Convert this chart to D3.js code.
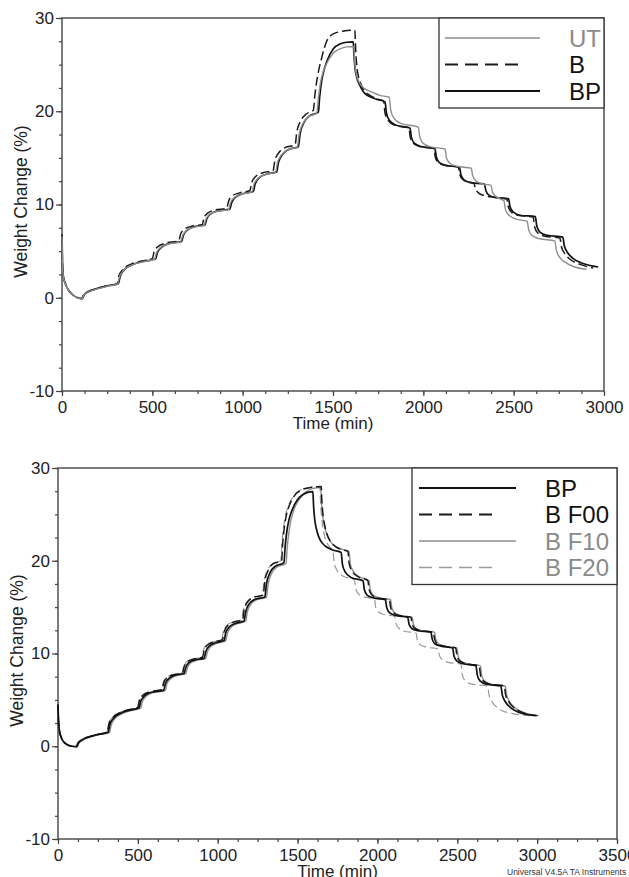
<!DOCTYPE html>
<html>
<head>
<meta charset="utf-8">
<script src="https://cdn.jsdelivr.net/npm/d3@7"></script>
<style>
  body { margin: 0; background: #fff; }
  svg { display: block; font-family: "Liberation Sans", Arial, sans-serif; }
</style>
</head>
<body>
<svg id="chart"></svg>
<script>
// ---- data: [time (min), weight change (%)] ----

// top panel
const topUT = [
  [0,6.6],[3,3.4],[8,2.2],[17,1.6],[30,1.0],[54,0.4],[80,0.05],[110,-0.12],
  [120,0.25],[145,0.6],[195,0.95],[255,1.25],[308,1.45],
  [318,2.25],[341,2.95],[386,3.5],[446,3.85],[512,4.1],
  [522,4.8],[544,5.35],[584,5.75],[657,6.0],
  [667,6.65],[689,7.2],[725,7.55],[786,7.75],
  [796,8.4],[818,8.95],[855,9.25],[922,9.45],
  [932,10.15],[954,10.75],[993,11.1],[1052,11.35],
  [1062,12.15],[1084,12.8],[1123,13.2],[1182,13.45],
  [1192,14.45],[1214,15.3],[1249,15.85],[1302,16.15],
  [1312,17.5],[1334,18.7],[1364,19.4],[1410,19.8],
  [1418,21.2],[1430,23.0],[1445,24.2],[1462,25.0],[1500,26.2],[1540,26.7],[1575,26.9],[1615,26.95],
  [1619,25.6],[1626,24.3],[1638,23.4],[1655,22.8],[1677,22.4],[1710,22.1],[1760,21.7],[1811,21.5],
  [1819,20.2],[1836,19.3],[1875,18.7],[1972,18.3],
  [1980,17.3],[1997,16.6],[2037,16.2],[2120,15.95],
  [2128,15.0],[2145,14.45],[2185,14.1],[2265,13.9],
  [2273,13.1],[2290,12.55],[2330,12.2],[2375,12.05],
  [2383,11.3],[2400,10.9],[2425,10.6],[2446,10.4],
  [2454,9.5],[2471,8.9],[2510,8.45],[2575,8.2],
  [2583,7.3],[2600,6.7],[2640,6.35],[2728,6.1],
  [2736,5.1],[2756,4.3],[2786,3.8],[2830,3.35],[2903,3.05]
];

const topB = [
  [0,6.5],[3,3.5],[8,2.2],[17,1.6],[30,1.0],[54,0.4],[80,0.05],[108,-0.1],
  [118,0.3],[143,0.65],[193,1.0],[253,1.3],[305,1.5],
  [315,2.35],[338,3.05],[383,3.6],[443,3.95],[500,4.2],
  [510,4.95],[532,5.5],[572,5.85],[646,6.1],
  [656,6.8],[678,7.35],[714,7.65],[776,7.85],
  [786,8.55],[808,9.1],[845,9.4],[912,9.6],
  [922,10.35],[944,10.95],[983,11.25],[1040,11.5],
  [1050,12.35],[1072,13.0],[1111,13.4],[1168,13.6],
  [1178,14.7],[1200,15.55],[1235,16.1],[1290,16.4],
  [1300,17.8],[1322,19.0],[1352,19.7],[1391,20.1],
  [1400,21.8],[1415,23.8],[1437,25.7],[1465,27.5],[1502,28.3],[1560,28.6],[1621,28.7],
  [1625,26.8],[1631,25.0],[1640,23.8],[1655,22.9],[1675,22.2],[1705,21.7],[1745,21.3],[1780,21.1],
  [1788,19.8],[1805,19.0],[1842,18.5],[1920,18.2],
  [1928,17.2],[1945,16.55],[1984,16.2],[2058,16.0],
  [2066,15.1],[2083,14.5],[2119,14.2],[2194,14.0],
  [2202,13.2],[2219,12.65],[2250,12.4],[2280,12.3],
  [2288,11.7],[2305,11.25],[2340,10.95],[2400,10.75],[2462,10.6],
  [2470,9.75],[2487,9.2],[2525,8.85],[2608,8.65],
  [2616,7.6],[2633,6.95],[2673,6.6],[2756,6.4],
  [2764,5.5],[2784,4.7],[2814,4.1],[2864,3.6],[2940,3.2]
];

const topBP = [
  [0,6.8],[3,3.5],[8,2.2],[17,1.6],[30,1.0],[54,0.4],[80,0.05],[112,-0.1],
  [122,0.3],[147,0.65],[197,1.0],[257,1.3],[312,1.5],
  [322,2.3],[345,3.0],[390,3.55],[450,3.9],[518,4.15],
  [528,4.85],[550,5.4],[590,5.8],[662,6.05],
  [672,6.7],[694,7.25],[730,7.6],[791,7.8],
  [801,8.45],[823,9.0],[860,9.3],[929,9.5],
  [939,10.2],[961,10.8],[1000,11.15],[1059,11.4],
  [1069,12.2],[1091,12.85],[1130,13.25],[1188,13.5],
  [1198,14.5],[1220,15.35],[1255,15.9],[1308,16.2],
  [1318,17.6],[1340,18.8],[1370,19.5],[1419,19.9],
  [1426,21.5],[1437,23.2],[1450,24.4],[1465,25.3],[1502,26.7],[1538,27.2],[1575,27.4],[1612,27.45],
  [1616,26.0],[1622,24.6],[1632,23.6],[1648,22.8],[1668,22.1],[1700,21.6],[1740,21.3],[1788,21.0],
  [1796,19.8],[1813,19.0],[1850,18.5],[1926,18.2],
  [1934,17.2],[1951,16.55],[1990,16.2],[2064,16.0],
  [2072,15.1],[2089,14.5],[2125,14.2],[2200,14.0],
  [2208,13.2],[2225,12.65],[2262,12.35],[2338,12.2],
  [2346,11.5],[2363,11.0],[2400,10.75],[2472,10.6],
  [2480,9.75],[2497,9.2],[2535,8.85],[2620,8.7],
  [2628,7.7],[2645,7.05],[2685,6.7],[2772,6.5],
  [2780,5.6],[2800,4.8],[2830,4.2],[2880,3.7],[2968,3.3]
];

// bottom panel
const botBP = [
  [0,4.5],[3,2.8],[8,1.8],[17,1.1],[30,0.6],[55,0.2],[85,0.0],[117,-0.05],
  [127,0.35],[152,0.7],[202,1.05],[260,1.3],[314,1.5],
  [324,2.3],[347,3.0],[392,3.55],[450,3.9],[508,4.15],
  [518,4.85],[540,5.4],[580,5.8],[662,6.05],
  [672,6.75],[694,7.3],[730,7.65],[790,7.85],
  [800,8.5],[822,9.05],[858,9.3],[915,9.5],
  [925,10.2],[947,10.8],[985,11.15],[1040,11.4],
  [1050,12.2],[1072,12.85],[1110,13.25],[1165,13.5],
  [1175,14.5],[1197,15.35],[1235,15.85],[1295,16.1],
  [1305,17.5],[1327,18.7],[1360,19.4],[1415,19.8],
  [1422,21.5],[1433,23.2],[1446,24.4],[1462,25.3],[1500,26.6],[1540,27.2],[1570,27.4],[1596,27.45],
  [1600,26.0],[1607,24.5],[1617,23.5],[1632,22.6],[1655,21.9],[1690,21.4],[1730,21.1],[1773,20.9],
  [1781,19.6],[1798,18.8],[1835,18.2],[1910,17.85],
  [1918,16.9],[1935,16.3],[1975,16.0],[2050,15.8],
  [2058,14.95],[2075,14.4],[2112,14.1],[2190,13.9],
  [2198,13.15],[2215,12.7],[2255,12.45],[2335,12.3],
  [2343,11.55],[2360,11.05],[2398,10.8],[2471,10.6],
  [2479,9.75],[2496,9.2],[2535,8.9],[2617,8.7],
  [2625,7.7],[2642,7.05],[2682,6.7],[2773,6.5],
  [2781,5.6],[2801,4.8],[2831,4.2],[2880,3.7],[2990,3.3]
];

const botF00 = [
  [0,4.5],[3,2.8],[8,1.8],[17,1.1],[30,0.6],[55,0.2],[85,0.0],[115,-0.05],
  [125,0.35],[150,0.7],[200,1.05],[258,1.3],[308,1.5],
  [318,2.35],[341,3.05],[386,3.6],[444,3.95],[500,4.2],
  [510,4.95],[532,5.5],[572,5.85],[652,6.1],
  [662,6.85],[684,7.4],[720,7.7],[780,7.9],
  [790,8.6],[812,9.15],[848,9.4],[905,9.6],
  [915,10.35],[937,10.95],[975,11.25],[1030,11.5],
  [1040,12.35],[1062,13.0],[1100,13.4],[1155,13.6],
  [1165,14.7],[1187,15.55],[1225,16.05],[1285,16.3],
  [1295,17.8],[1317,19.0],[1350,19.7],[1400,20.0],
  [1407,21.9],[1418,23.7],[1431,25.0],[1447,25.9],[1480,27.0],[1520,27.6],[1580,27.9],[1648,28.0],
  [1652,26.5],[1659,25.0],[1668,24.0],[1682,23.0],[1705,22.1],[1740,21.5],[1780,21.2],[1815,21.0],
  [1823,19.7],[1840,18.9],[1877,18.3],[1940,17.85],
  [1948,16.9],[1965,16.3],[2003,16.0],[2075,15.8],
  [2083,14.95],[2100,14.4],[2137,14.1],[2210,13.9],
  [2218,13.15],[2235,12.7],[2275,12.45],[2350,12.3],
  [2358,11.55],[2375,11.05],[2413,10.8],[2490,10.6],
  [2498,9.75],[2515,9.2],[2554,8.9],[2637,8.7],
  [2645,7.7],[2662,7.05],[2702,6.7],[2794,6.5],
  [2802,5.6],[2822,4.8],[2852,4.2],[2900,3.7],[3000,3.3]
];

const botF10 = [
  [0,4.5],[3,2.8],[8,1.8],[17,1.1],[30,0.6],[55,0.2],[85,0.0],[120,-0.05],
  [130,0.3],[155,0.65],[205,1.0],[265,1.28],[322,1.45],
  [332,2.2],[355,2.95],[400,3.5],[458,3.85],[518,4.1],
  [528,4.8],[550,5.35],[590,5.75],[672,6.0],
  [682,6.7],[704,7.25],[740,7.6],[800,7.8],
  [810,8.45],[832,9.0],[868,9.25],[925,9.45],
  [935,10.15],[957,10.75],[995,11.1],[1050,11.35],
  [1060,12.15],[1082,12.8],[1120,13.2],[1175,13.45],
  [1185,14.45],[1207,15.3],[1245,15.8],[1305,16.05],
  [1315,17.4],[1337,18.6],[1370,19.3],[1428,19.7],
  [1435,21.4],[1446,23.1],[1459,24.4],[1475,25.4],[1510,26.6],[1550,27.4],[1600,27.8],[1645,27.9],
  [1649,26.4],[1656,25.0],[1665,24.0],[1680,23.0],[1705,22.1],[1740,21.5],[1785,21.2],[1822,21.0],
  [1830,19.7],[1847,18.9],[1884,18.3],[1947,17.85],
  [1955,16.9],[1972,16.3],[2010,16.0],[2082,15.8],
  [2090,14.95],[2107,14.4],[2144,14.1],[2217,13.9],
  [2225,13.15],[2242,12.7],[2282,12.45],[2357,12.3],
  [2365,11.55],[2382,11.05],[2420,10.8],[2497,10.6],
  [2505,9.75],[2522,9.2],[2561,8.9],[2644,8.7],
  [2652,7.7],[2669,7.05],[2709,6.7],[2800,6.5],
  [2808,5.6],[2828,4.8],[2858,4.2],[2906,3.7],[3010,3.3]
];

const botF20 = [
  [0,4.5],[3,2.8],[8,1.8],[17,1.1],[30,0.6],[55,0.2],[85,0.0],[114,-0.05],
  [124,0.35],[149,0.7],[199,1.05],[256,1.3],[305,1.5],
  [315,2.35],[338,3.05],[383,3.6],[441,3.95],[497,4.2],
  [507,4.95],[529,5.5],[569,5.85],[648,6.1],
  [658,6.85],[680,7.4],[716,7.7],[776,7.9],
  [786,8.6],[808,9.15],[844,9.4],[900,9.6],
  [910,10.35],[932,10.95],[970,11.25],[1025,11.5],
  [1035,12.35],[1057,13.0],[1095,13.4],[1150,13.6],
  [1160,14.7],[1182,15.55],[1220,16.05],[1280,16.3],
  [1290,17.8],[1312,19.0],[1345,19.7],[1395,20.0],
  [1402,21.9],[1413,23.7],[1426,25.0],[1442,25.9],[1475,27.0],[1515,27.6],[1575,27.9],[1640,28.0],
  [1644,26.3],[1650,24.8],[1658,23.6],[1670,22.6],[1685,21.9],[1700,21.5],[1721,21.1],
  [1729,19.8],[1746,19.0],[1783,18.35],[1856,17.95],
  [1864,17.0],[1881,16.4],[1915,16.1],[1981,15.9],
  [1989,15.0],[2006,14.5],[2040,14.2],[2108,14.0],
  [2116,13.2],[2133,12.75],[2170,12.4],[2242,12.2],
  [2250,11.4],[2267,10.95],[2305,10.7],[2380,10.5],
  [2388,9.8],[2405,9.35],[2443,9.05],[2523,8.85],
  [2531,7.75],[2548,7.1],[2590,6.7],[2690,6.5],
  [2698,5.6],[2718,4.8],[2748,4.2],[2800,3.7],[2960,3.3]
];

const yTicks = [-10, 0, 10, 20, 30];
const topXTicks = [0, 500, 1000, 1500, 2000, 2500, 3000];
const botXTicks = [0, 500, 1000, 1500, 2000, 2500, 3000, 3500];

const topSeries = [
  { name: 'UT', values: topUT, color: '#8e8e8e', dash: null, width: 1.4 },
  { name: 'B',  values: topB,  color: '#1a1a1a', dash: '9,4', width: 1.5 },
  { name: 'BP', values: topBP, color: '#111', dash: null, width: 1.7 }
];
const botSeries = [
  { name: 'BP',    values: botBP,  color: '#111', dash: null, width: 1.7 },
  { name: 'B F00', values: botF00, color: '#1a1a1a', dash: '9,4', width: 1.5 },
  { name: 'B F10', values: botF10, color: '#8e8e8e', dash: null, width: 1.4 },
  { name: 'B F20', values: botF20, color: '#9a9a9a', dash: '8,4', width: 1.2 }
];

// ---- drawing ----
const W = 629, H = 877;
const FONT = 17;
const svg = d3.select('#chart').attr('width', W).attr('height', H);
const plain = d => String(d);   // hyphen minus, no thousands separator

function drawPanel(p) {
  const x = d3.scaleLinear().domain(p.xDomain).range([p.left, p.right]);
  const y = d3.scaleLinear().domain([-10, 30]).range([p.bottom, p.top]);
  const g = svg.append('g');

  // minor ticks
  const minorX = d3.range(p.xDomain[0], p.xDomain[1] + 1, 125);
  const minorY = d3.range(-10, 30.01, 2.5);
  g.append('g')
    .attr('transform', `translate(0,${p.bottom})`)
    .call(d3.axisBottom(x).tickValues(minorX).tickSize(3).tickSizeOuter(0).tickFormat(''))
    .call(s => s.select('.domain').remove());
  g.append('g')
    .attr('transform', `translate(${p.left},0)`)
    .call(d3.axisLeft(y).tickValues(minorY).tickSize(3).tickSizeOuter(0).tickFormat(''))
    .call(s => s.select('.domain').remove());

  // major ticks + labels
  const xa = g.append('g')
    .attr('transform', `translate(0,${p.bottom})`)
    .call(d3.axisBottom(x).tickValues(p.xTicks).tickSize(5).tickPadding(5).tickSizeOuter(0).tickFormat(plain));
  const ya = g.append('g')
    .attr('transform', `translate(${p.left},0)`)
    .call(d3.axisLeft(y).tickValues(yTicks).tickSize(6).tickPadding(2).tickSizeOuter(0).tickFormat(plain));
  [xa, ya].forEach(a => {
    a.select('.domain').remove();
    a.selectAll('text').attr('font-size', FONT).attr('fill', '#222')
      .attr('font-family', '"Liberation Sans", Arial, sans-serif');
  });
  g.selectAll('.tick line').attr('stroke', '#444').attr('stroke-width', 1.2);

  // frame
  g.append('rect')
    .attr('x', p.left).attr('y', p.top)
    .attr('width', p.right - p.left).attr('height', p.bottom - p.top)
    .attr('fill', 'none').attr('stroke', '#444').attr('stroke-width', 1.4);

  // curves
  const line = d3.line()
    .x(d => x(d[0]))
    .y(d => y(d[1]))
    .curve(d3.curveMonotoneX);
  g.append('g').selectAll('path.series')
    .data(p.series.slice().reverse())
    .join('path')
    .attr('class', 'series')
    .attr('d', d => line(d.values))
    .attr('fill', 'none')
    .attr('stroke', d => d.color)
    .attr('stroke-width', d => d.width)
    .attr('stroke-dasharray', d => d.dash)
    .attr('stroke-linejoin', 'round');

  // axis titles
  g.append('text')
    .attr('x', (p.left + p.right) / 2 + p.xTitleShift)
    .attr('y', p.bottom + 38)
    .attr('text-anchor', 'middle')
    .attr('font-size', FONT).attr('fill', '#222')
    .text('Time (min)');
  g.append('text')
    .attr('transform', `translate(${p.yTitleX},${(p.top + p.bottom) / 2 - 3}) rotate(-90)`)
    .attr('text-anchor', 'middle')
    .attr('font-size', 17.5).attr('fill', '#222')
    .text('Weight Change (%)');

  // legend
  const L = p.legend;
  const rowH = 26.5;
  const boxH = 20 + (p.series.length - 1) * rowH + 17;
  const lg = g.append('g');
  lg.append('rect')
    .attr('x', L.x).attr('y', p.top)
    .attr('width', p.right - L.x).attr('height', boxH)
    .attr('fill', '#fff').attr('stroke', '#333').attr('stroke-width', 1.3);
  const rows = lg.selectAll('g.row').data(p.series).join('g')
    .attr('class', 'row')
    .attr('transform', (d, i) => `translate(0,${p.top + 20 + i * rowH})`);
  rows.append('line')
    .attr('x1', L.x + L.lineStart)
    .attr('x2', d => L.x + (d.dash ? L.dashEnd : L.lineEnd))
    .attr('stroke', d => d.color)
    .attr('stroke-width', d => d.width + 0.3)
    .attr('stroke-dasharray', d => d.dash ? '13,7' : null);
  rows.append('text')
    .attr('x', L.x + L.textX)
    .attr('dy', '0.36em')
    .attr('font-size', 24)
    .attr('fill', d => d.color === '#111' || d.color === '#1a1a1a' ? '#111' : '#8a8a8a')
    .text(d => d.name);
}

drawPanel({
  left: 62, right: 604, top: 18, bottom: 391,
  xDomain: [0, 3000], xTicks: topXTicks, xTitleShift: 0, yTitleX: 27,
  series: topSeries,
  legend: { x: 439, lineStart: 6, lineEnd: 101, dashEnd: 81, textX: 130 }
});

drawPanel({
  left: 58, right: 617, top: 468, bottom: 839,
  xDomain: [0, 3500], xTicks: botXTicks, xTitleShift: 0, yTitleX: 23,
  series: botSeries,
  legend: { x: 412, lineStart: 7, lineEnd: 104, dashEnd: 85, textX: 133 }
});

svg.append('text')
  .attr('x', 507).attr('y', 875)
  .attr('font-size', 8.5).attr('fill', '#333')
  .text('Universal V4.5A TA Instruments');
</script>
</body>
</html>
